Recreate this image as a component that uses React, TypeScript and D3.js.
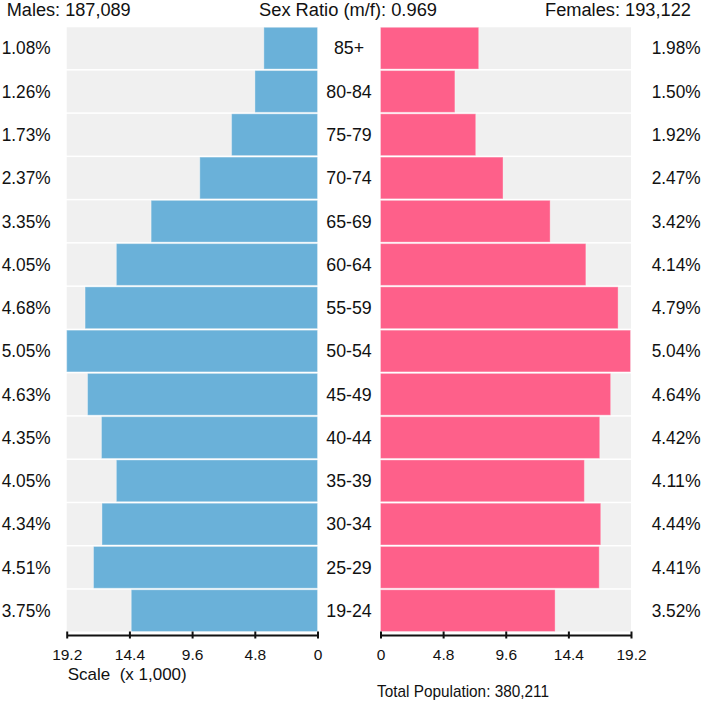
import React, { useEffect, useRef } from "react";
import * as d3 from "d3";

const ageGroups = ["85+", "80-84", "75-79", "70-74", "65-69", "60-64", "55-59", "50-54", "45-49", "40-44", "35-39", "30-34", "25-29", "19-24"];
const malePct = [1.08, 1.26, 1.73, 2.37, 3.35, 4.05, 4.68, 5.05, 4.63, 4.35, 4.05, 4.34, 4.51, 3.75];
const femalePct = [1.98, 1.5, 1.92, 2.47, 3.42, 4.14, 4.79, 5.04, 4.64, 4.42, 4.11, 4.44, 4.41, 3.52];
const totalPopulation = 380211;
const maleTotal = 187089;
const femaleTotal = 193122;
const sexRatio = 0.969;
const scaleTicks = [0, 4800, 9600, 14400, 19200];

const FONT = "'Liberation Sans', Arial, Helvetica, sans-serif";
const BLUE = "#6ab1d9";
const PINK = "#fe608a";
const BG = "#f0f0f0";

export default function App() {
  const W = 703;
  const H = 701;
  const leftAxisRef = useRef<SVGGElement>(null);
  const rightAxisRef = useRef<SVGGElement>(null);

  const toCount = (p: number) => (p / 100) * totalPopulation;
  const maxVal = d3.max([...malePct, ...femalePct].map(toCount)) as number;
  const xL = d3.scaleLinear().domain([0, maxVal]).range([317.5, 66.7]);
  const xR = d3.scaleLinear().domain([0, maxVal]).range([380.5, 631]);
  const y = d3.scaleBand<string>().domain(ageGroups).range([27.3, 631.5]).paddingInner(0.035).paddingOuter(0);
  const bw = y.bandwidth();
  const fmt = d3.format(",");
  const axisY = 635;

  useEffect(() => {
    const fmtTick = (d: d3.NumberValue) => String(+((d as number) / 1000).toFixed(1));
    const style = (g: d3.Selection<SVGGElement, unknown, null, undefined>) => {
      g.attr("font-family", FONT).attr("font-size", 15.5);
      g.select(".domain").attr("stroke", "#111").attr("stroke-width", 2);
      g.selectAll(".tick line").attr("stroke", "#111").attr("stroke-width", 2).attr("y1", -3.5).attr("y2", 3.5);
      g.selectAll(".tick text").attr("fill", "#111").attr("dy", null).attr("y", 24.5);
    };
    if (leftAxisRef.current) {
      const g = d3.select(leftAxisRef.current);
      g.call(d3.axisBottom(xL).tickValues(scaleTicks).tickFormat(fmtTick).tickSizeOuter(0));
      style(g);
    }
    if (rightAxisRef.current) {
      const g = d3.select(rightAxisRef.current);
      g.call(d3.axisBottom(xR).tickValues(scaleTicks).tickFormat(fmtTick).tickSizeOuter(0));
      style(g);
    }
  });

  return (
    <svg width={W} height={H} style={{ position: "absolute", left: 0, top: 0, background: "#fff" }} fontFamily={FONT}>
      <text x={6.7} y={15.5} fontSize={18} fill="#111" textLength={124} lengthAdjust="spacingAndGlyphs">{`Males: ${fmt(maleTotal)}`}</text>
      <text x={259} y={15.5} fontSize={18} fill="#111" textLength={178} lengthAdjust="spacingAndGlyphs">{`Sex Ratio (m/f): ${sexRatio.toFixed(3)}`}</text>
      <text x={545} y={15.5} fontSize={18} fill="#111" textLength={146} lengthAdjust="spacingAndGlyphs">{`Females: ${fmt(femaleTotal)}`}</text>

      {ageGroups.map((a, i) => {
        const y0 = y(a) as number;
        const mv = toCount(malePct[i]);
        const fv = toCount(femalePct[i]);
        const cy = y0 + bw / 2;
        return (
          <g key={a}>
            <rect x={xL(maxVal)} y={y0} width={xL(0) - xL(maxVal)} height={bw} fill={BG} />
            <rect x={xR(0)} y={y0} width={xR(maxVal) - xR(0)} height={bw} fill={BG} />
            <rect x={xL(mv)} y={y0} width={xL(0) - xL(mv)} height={bw} fill={BLUE} stroke="#ffffff" strokeOpacity={0.35} strokeWidth={1} />
            <rect x={xR(0)} y={y0} width={xR(fv) - xR(0)} height={bw} fill={PINK} stroke="#ffffff" strokeOpacity={0.35} strokeWidth={1} />
            <text x={1.7} y={cy + 6.3} fontSize={17.5} fill="#111" textLength={49} lengthAdjust="spacingAndGlyphs">{`${malePct[i].toFixed(2)}%`}</text>
            <text x={651.7} y={cy + 6.3} fontSize={17.5} fill="#111" textLength={49} lengthAdjust="spacingAndGlyphs">{`${femalePct[i].toFixed(2)}%`}</text>
            <text x={349} y={cy + 6.3} fontSize={17.8} fill="#111" textAnchor="middle">{a}</text>
          </g>
        );
      })}

      <g ref={leftAxisRef} transform={`translate(0,${axisY})`} />
      <g ref={rightAxisRef} transform={`translate(0,${axisY})`} />

      <text x={67.7} y={679.5} fontSize={17} fill="#111" style={{ whiteSpace: "pre" }} textLength={119} lengthAdjust="spacingAndGlyphs">{"Scale  (x 1,000)"}</text>
      <text x={377} y={696.5} fontSize={17} fill="#111" textLength={172} lengthAdjust="spacingAndGlyphs">{`Total Population: ${fmt(totalPopulation)}`}</text>
    </svg>
  );
}
